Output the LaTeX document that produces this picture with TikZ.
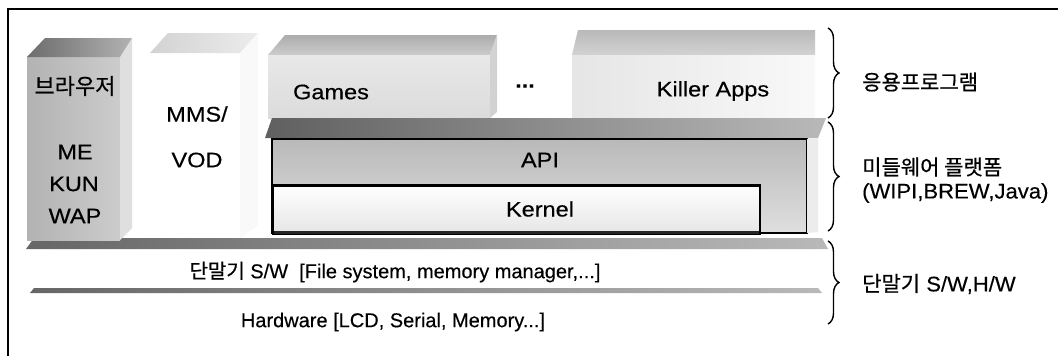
\documentclass[tikz,border=0pt]{standalone}
\usepackage{fontspec}
\setmainfont{Liberation Sans}[FakeBold=0.3]
\newfontfamily\widefnt{Liberation Sans}[FakeStretch=1.12,FakeBold=0.4]
\newfontfamily\sidefnt{Liberation Sans}[FakeStretch=1.05,FakeBold=0.3]
\newfontfamily\kr{Noto Sans CJK KR}[FakeBold=0.6]
\usetikzlibrary{decorations.pathreplacing}
\begin{document}
\begin{tikzpicture}[x=1pt,y=-1pt,
  lbl/.style={font=\widefnt\fontsize{21}{23}\selectfont, inner sep=0pt, text=black},
  base/.style={font=\fontsize{20}{22}\selectfont, inner sep=0pt, text=black},
  side/.style={font=\sidefnt\fontsize{21}{23}\selectfont, inner sep=0pt, text=black, anchor=west},
  brc/.style={decorate, decoration={brace, amplitude=11pt}, line width=1.4pt},
  box/.style={draw=black, line width=1.3pt}]
\useasboundingbox (0,0) rectangle (1058,356);
\fill[white] (0,0) rectangle (1058,356);
% frame
\draw[line width=1.3pt] (8,356) -- (8,9) -- (1058,9);

% terminal S/W slab
\shade[left color=gray!80!black, right color=gray!55] (26,249) -- (34,238) -- (822,238) -- (828,249) -- cycle;
\shade[left color=gray!80!black, right color=gray!55] (30,293) -- (34,288) -- (818,288) -- (822,293) -- cycle;

% browser box
\shade[left color=gray!60, right color=gray!40] (27,57) rectangle (120,240);
\fill[gray!25] (120,57) -- (132,38) -- (132,228) -- (120,240) -- cycle;
\shade[left color=gray!85!black, right color=gray!60] (27,57) -- (45,38) -- (132,38) -- (120,57) -- cycle;

% MMS/VOD box
\shade[left color=gray!35, right color=gray!15] (150,53) -- (168,33) -- (258,33) -- (240,53) -- cycle;
\fill[gray!5] (240,53) -- (258,33) -- (258,225) -- (240,238) -- cycle;

% Games box
\shade[top color=gray!65, bottom color=gray!40] (268,55) -- (285,35) -- (497,35) -- (490,55) -- cycle;
\shade[top color=gray!18, bottom color=gray!28] (268,55) rectangle (490,118);
\fill[gray!35] (490,55) -- (497,35) -- (497,112) -- (490,118) -- cycle;

% Killer Apps box
\shade[top color=gray!55, bottom color=gray!35] (572,55) -- (578,30) -- (815,30) -- (815,55) -- cycle;
\shade[left color=gray!20, right color=gray!5] (572,55) rectangle (815,118);

% middleware slab
\shade[left color=gray!75!black, right color=gray!55] (265,138) -- (272,118) -- (826,118) -- (818,138) -- cycle;
\shade[box, top color=gray!55, bottom color=gray!25] (272,139) rectangle (807,233);
\fill[gray!15] (807,139) -- (818,138) -- (818,232) -- (807,233) -- cycle;
\shade[box, top color=white, bottom color=gray!20] (273,185) rectangle (760,234);
\draw[line width=3pt, gray!30!black] (274,232) -- (759,232);
\draw[line width=2.5pt, black] (274,186) -- (759,186);

% labels in boxes
\node[lbl] (browser) at (75,86) {\kr\fontsize{22}{24}\selectfont 브라우저};
\node[lbl] (me) at (75,152) {ME};
\node[lbl] (kun) at (74,184) {KUN};
\node[lbl] (wap) at (75,216) {WAP};
\node[lbl] (mms) at (197,114) {MMS/};
\node[lbl] (vod) at (197,160) {VOD};
\node[lbl] (games) at (331,92) {Games};
\node[lbl] (dots) at (525,86) {\textbf{...}};
\node[lbl] (killer) at (713,91) {Killer Apps};
\node[lbl] (api) at (540,160) {API};
\node[lbl] (kernel) at (540,209) {Kernel};
\node[base] (sw) at (395,272) {{\kr 단말기} S/W\ \ [File system, memory manager,...]};
\node[base] (hw) at (393,322) {Hardware [LCD, Serial, Memory...]};

% braces
\draw[brc] (828,28) -- (828,118);
\draw[brc] (828,122) -- (828,231);
\draw[brc] (828,241) -- (828,324);

% side labels
\node[side] (app) at (862,82) {\kr 응용프로그램};
\node[side] (mid) at (862,167) {\kr 미들웨어 플랫폼};
\node[side] (midsub) at (862,193) {(WIPI,BREW,Java)};
\node[side] (term) at (862,284) {{\kr 단말기} S/W,H/W};
\end{tikzpicture}
\end{document}
